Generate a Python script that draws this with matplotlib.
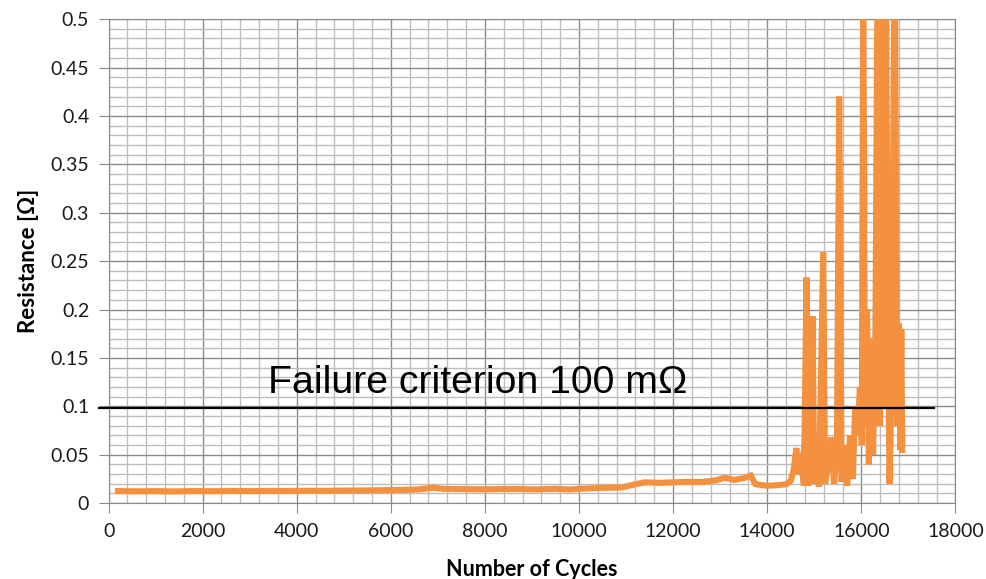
import numpy as np
from matplotlib import pyplot as plt
from matplotlib.ticker import MultipleLocator

# valeurs (cycles, resistance en ohm)
cycles = [200, 600, 1000, 1400, 1800, 2200, 2600, 3000, 3400, 3800,
          4200, 4600, 5000, 5400, 5800, 6200, 6600, 6900, 7100, 7500,
          7900, 8300, 8700, 9100, 9500, 9800, 10100, 10500, 10900, 11200,
          11400, 11700, 12000, 12300, 12600, 12900, 13100, 13300, 13500, 13650,
          13750, 14000, 14200, 14400, 14500, 14560, 14620, 14660, 14720, 14780,
          14835, 14870, 14920, 14962, 15000, 15060, 15100, 15190, 15230, 15300,
          15366, 15420, 15480, 15530, 15580, 15640, 15700, 15760, 15820, 15870,
          15920, 15970, 16010, 16040, 16080, 16120, 16160, 16200, 16250, 16300,
          16350, 16390, 16430, 16470, 16520, 16560, 16600, 16650, 16710, 16760,
          16800, 16830, 16850, 16870]
resistance = [0.0125, 0.0122, 0.0124, 0.0121, 0.0125, 0.0123, 0.0126, 0.0124, 0.0127, 0.0125,
              0.0128, 0.0127, 0.0130, 0.0131, 0.0134, 0.0136, 0.0142, 0.0160, 0.0148, 0.0145,
              0.0143, 0.0145, 0.0146, 0.0142, 0.0148, 0.0141, 0.0150, 0.0158, 0.0162, 0.0195,
              0.0215, 0.0210, 0.0215, 0.0220, 0.0218, 0.0235, 0.0262, 0.0240, 0.0258, 0.0285,
              0.0195, 0.0180, 0.0185, 0.0195, 0.0230, 0.0340, 0.0570, 0.0300, 0.0420, 0.0180,
              0.2330, 0.0180, 0.0500, 0.1930, 0.0200, 0.0350, 0.0170, 0.2590, 0.0200, 0.0400,
              0.0680, 0.0200, 0.0500, 0.4200, 0.0220, 0.0600, 0.0180, 0.0700, 0.0250, 0.1000,
              0.0700, 0.1200, 0.0600, 0.5500, 0.0800, 0.2000, 0.0400, 0.1700, 0.0500, 0.1800,
              0.6000, 0.0800, 0.6000, 0.1000, 0.6000, 0.2000, 0.0200, 0.1500, 0.6000, 0.0800,
              0.1860, 0.0550, 0.1800, 0.0550]

critere = 0.098
critere_debut = -200
critere_fin = 17550

xticks = [0, 2000, 4000, 6000, 8000, 10000, 12000, 14000, 16000, 18000]
yticks = [0, 0.05, 0.1, 0.15, 0.2, 0.25, 0.3, 0.35, 0.4, 0.45, 0.5]
ylabels = ['0', '0.05', '0.1', '0.15', '0.2', '0.25', '0.3', '0.35', '0.4', '0.45', '0.5']

plt.rcParams['font.family'] = ['Lato', 'DejaVu Sans']

fig = plt.figure(figsize=(9.87, 5.79), dpi=100)
ax = fig.add_axes([0.110, 0.131, 0.858, 0.836])

ax.plot(cycles, resistance, color='#F4913F', linewidth=4.4, solid_joinstyle='miter', zorder=3)
ax.plot([critere_debut, critere_fin], [critere, critere], color='black', linewidth=1.6,
        clip_on=False, zorder=4)
ax.text(3380, 0.114, 'Failure criterion 100 mΩ', fontsize=28.3, family='Liberation Sans',
        color='black', zorder=5)

ax.set_xlim(0, 18000)
ax.set_ylim(0, 0.5)
ax.set_xticks(xticks)
ax.set_xticklabels([str(t) for t in xticks])
ax.set_yticks(yticks)
ax.set_yticklabels(ylabels)
ax.xaxis.set_minor_locator(MultipleLocator(400))
ax.yaxis.set_minor_locator(MultipleLocator(0.01))

ax.grid(which='major', color='#8a8a8a', linewidth=1.0, zorder=1)
ax.grid(which='minor', color='#bdbdbd', linewidth=1.0, zorder=1)
ax.set_axisbelow(True)
ax.tick_params(which='major', direction='out', length=7, color='#8a8a8a',
               labelsize=14, labelcolor='#1a1a1a', pad=7)
ax.tick_params(which='minor', length=0)
for s in ax.spines.values():
    s.set_color('#8a8a8a')

ax.set_xlabel('Number of Cycles', fontsize=15.5, fontweight='bold', labelpad=14)
ax.set_ylabel('Resistance [Ω]', fontsize=16, fontweight='bold', labelpad=8)

plt.savefig('out.png', dpi=100)
